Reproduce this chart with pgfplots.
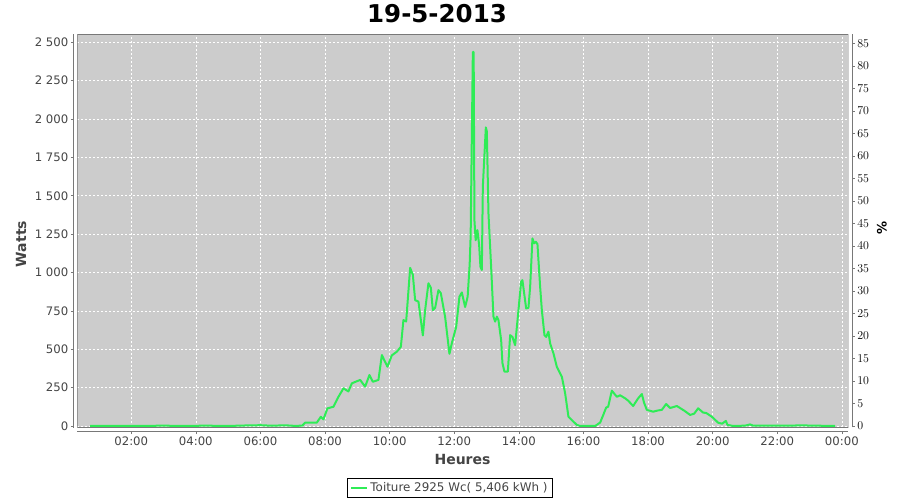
\documentclass[border=0pt]{standalone}
\usepackage{fontspec}
\setmainfont{DejaVu Sans}
\usepackage{pgfplots}
\pgfplotsset{compat=1.18}
\definecolor{bggray}{RGB}{204,204,204}
\definecolor{linegreen}{RGB}{46,236,86}
\definecolor{txtgray}{RGB}{68,68,68}
\definecolor{bordergray}{RGB}{120,120,120}

\pgfplotstableread{
h W
0.73 0
1.5 1
2.2 0
3.0 2
3.6 0
4.3 2
5.0 0
5.5 3
6.0 5
6.3 2
6.8 4
7.1 0
7.3 3
7.384 22
7.746 22
7.870 60
7.950 43
8.074 115
8.260 125
8.415 190
8.570 245
8.724 225
8.830 278
9.087 300
9.241 256
9.375 332
9.480 288
9.653 300
9.759 462
9.932 386
10.068 460
10.223 484
10.347 516
10.427 690
10.511 680
10.635 1030
10.718 985
10.789 820
10.892 810
11.028 590
11.099 755
11.201 930
11.276 900
11.337 755
11.409 770
11.511 885
11.585 865
11.718 710
11.851 470
11.926 540
12.059 645
12.161 842
12.235 870
12.337 775
12.415 842
12.477 1050
12.508 1240
12.576 2437
12.601 2437
12.625 1340
12.663 1210
12.718 1276
12.771 1178
12.811 1037
12.854 1016
12.885 1558
12.978 1945
13.009 1920
13.059 1387
13.142 1037
13.214 712
13.266 680
13.319 712
13.368 690
13.452 560
13.492 410
13.554 354
13.659 354
13.731 592
13.802 580
13.885 527
13.969 712
14.071 940
14.111 950
14.226 766
14.297 770
14.350 907
14.421 1222
14.474 1190
14.526 1200
14.576 1185
14.659 907
14.712 755
14.793 592
14.845 580
14.916 614
14.969 538
15.071 473
15.176 386
15.331 321
15.433 213
15.536 60
15.690 28
15.796 7
15.898 0
16.362 0
16.517 22
16.610 70
16.703 120
16.765 125
16.879 230
17.034 190
17.136 200
17.291 180
17.384 165
17.539 130
17.693 180
17.808 208
17.879 150
17.963 105
18.158 93
18.282 100
18.427 105
18.560 143
18.684 117
18.892 130
19.118 100
19.303 72
19.427 80
19.551 115
19.706 87
19.799 85
19.975 60
20.077 40
20.170 21
20.294 15
20.409 33
20.458 7
20.635 0
21.006 2
21.161 10
21.254 2
21.780 3
22.399 2
22.709 4
23.173 2
23.793 0
}\powertable

\begin{document}
\begin{tikzpicture}
\useasboundingbox (0bp,0bp) rectangle (900bp,500bp);
\node[font=\fontsize{24.5bp}{27bp}\selectfont\bfseries] at (437bp,486.5bp) {19-5-2013};
\node[font=\fontsize{14bp}{16bp}\selectfont\bfseries, text=txtgray] at (462.5bp,40.3bp) {Heures};
\node[font=\fontsize{14bp}{16bp}\selectfont\bfseries, text=txtgray, rotate=90] at (21bp,256bp) {Watts};
\node[font=\fontsize{13bp}{16bp}\selectfont\bfseries, rotate=90] at (882bp,272bp) {\%};

\begin{scope}[shift={(77.3bp,72.5bp)}]
\begin{axis}[
  at={(0bp,0bp)}, anchor=south west,
  scale only axis, width=771bp, height=393.5bp,
  xmin=0.33, xmax=24.2, ymin=-10, ymax=2554,
  axis background/.style={fill=bggray},
  axis x line*=bottom, axis y line*=left,
  x axis line style={yshift=-4bp, bordergray, line width=0.8bp, -},
  y axis line style={xshift=-4bp, bordergray, line width=0.8bp, -},
  xtick style={yshift=-4bp, bordergray, line width=0.6bp},
  ytick style={xshift=-4bp, bordergray, line width=0.6bp},
  tick align=outside, major tick length=2.5bp,
  grid=major, major grid style={white, dash pattern=on 2bp off 2bp, line width=0.6bp},
  xtick={2,4,...,24},
  xticklabels={02:00,04:00,06:00,08:00,10:00,12:00,14:00,16:00,18:00,20:00,22:00,00:00},
  ytick={0,250,...,2500},
  yticklabels={0,250,500,750,1 000,1 250,1 500,1 750,2 000,2 250,2 500},
  tick label style={font=\fontsize{11.7bp}{14bp}\selectfont, text=txtgray},
  xticklabel style={yshift=-3bp},
  yticklabel style={xshift=-3bp},
  legend style={at={(0.4834,-0.1537)}, anchor=center, draw=black, line width=0.6bp,
    font=\fontsize{11.9bp}{14bp}\selectfont, text=txtgray, inner xsep=3bp, inner ysep=2bp,
    legend cell align=left},
  legend image code/.code={\draw[#1, line width=2bp] (0bp,0bp) -- (16bp,0bp);},
]
\addplot[color=linegreen, line width=2bp, line join=round] table[x=h,y=W] {\powertable};
\addlegendentry{Toiture 2925 Wc( 5,406 kWh )}
\draw[bordergray, line width=0.8bp] (rel axis cs:0,0) rectangle (rel axis cs:1,1);
\end{axis}

\begin{axis}[
  at={(0bp,0bp)}, anchor=south west,
  scale only axis, width=771bp, height=393.5bp,
  xmin=0.33, xmax=24.2, ymin=-0.33, ymax=87.07,
  axis x line=none, axis y line*=right,
  y axis line style={xshift=4bp, bordergray, line width=0.8bp, -},
  ytick style={xshift=4bp, bordergray, line width=0.6bp},
  tick align=outside, major tick length=2.5bp,
  ytick={0,5,...,85},
  yticklabel style={font=\fontsize{11.7bp}{14bp}\selectfont, text=black, xshift=3bp},
]
\end{axis}
\end{scope}
\end{tikzpicture}
\end{document}
